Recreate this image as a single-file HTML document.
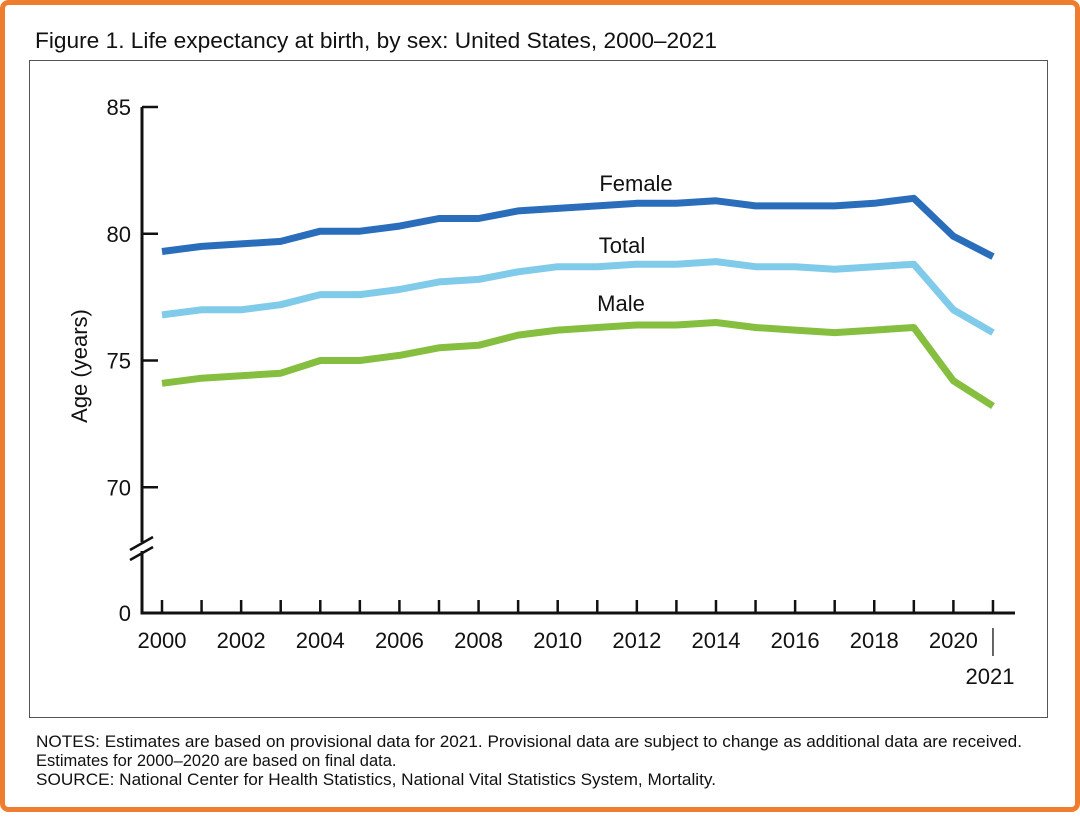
<!DOCTYPE html>
<html><head><meta charset="utf-8"><style>
body{margin:0;background:#fff;width:1080px;height:812px;overflow:hidden;font-family:"Liberation Sans",Arial,sans-serif}
</style></head><body>
<svg width="1080" height="812" font-family="Liberation Sans, Arial, sans-serif">
<rect x="2.5" y="2.5" width="1075" height="807" rx="6" fill="#fff" stroke="#ef7d30" stroke-width="5"/>
<text x="35" y="48" font-size="22" fill="#111" textLength="682" lengthAdjust="spacingAndGlyphs">Figure 1. Life expectancy at birth, by sex: United States, 2000–2021</text>
<rect x="29.5" y="60.5" width="1018" height="657" fill="none" stroke="#555" stroke-width="1"/>
<g id="axes"></g>
<g id="lines"></g>
<text x="36" y="747" font-size="16.5" fill="#111" textLength="986" lengthAdjust="spacingAndGlyphs">NOTES: Estimates are based on provisional data for 2021. Provisional data are subject to change as additional data are received.</text>
<text x="36" y="766" font-size="16.5" fill="#111">Estimates for 2000–2020 are based on final data.</text>
<text x="36" y="785" font-size="16.5" fill="#111" textLength="680" lengthAdjust="spacingAndGlyphs">SOURCE: National Center for Health Statistics, National Vital Statistics System, Mortality.</text>
</svg>
<script>
const years=[2000,2001,2002,2003,2004,2005,2006,2007,2008,2009,2010,2011,2012,2013,2014,2015,2016,2017,2018,2019,2020,2021];
const female=[79.3,79.5,79.6,79.7,80.1,80.1,80.3,80.6,80.6,80.9,81.0,81.1,81.2,81.2,81.3,81.1,81.1,81.1,81.2,81.4,79.9,79.1];
const total=[76.8,77.0,77.0,77.2,77.6,77.6,77.8,78.1,78.2,78.5,78.7,78.7,78.8,78.8,78.9,78.7,78.7,78.6,78.7,78.8,77.0,76.1];
const male=[74.1,74.3,74.4,74.5,75.0,75.0,75.2,75.5,75.6,76.0,76.2,76.3,76.4,76.4,76.5,76.3,76.2,76.1,76.2,76.3,74.2,73.2];
const yTicks=[85,80,75,70];
const xLabels=[2000,2002,2004,2006,2008,2010,2012,2014,2016,2018,2020];
const NS="http://www.w3.org/2000/svg";
const x=v=>162+(v-2000)*39.57;
const y=v=>107+(85-v)*25.35;
function mk(p,t,a){const e=document.createElementNS(NS,t);for(const k in a)e.setAttribute(k,a[k]);p.appendChild(e);return e;}
const ax=document.getElementById('axes');
let e;
e=mk(ax,'path',{d:'M142,107V542M142,551V613H1015',fill:'none',stroke:'#111','stroke-width':3});

e=mk(ax,'path',{d:'M130,550L153,537M130,560L153,547',stroke:'#111','stroke-width':2.5});

yTicks.forEach(v=>{
 e=mk(ax,'line',{x1:142,x2:158,y1:y(v),y2:y(v),stroke:'#111','stroke-width':2.5});
 
 e=mk(ax,'text',{x:131,y:y(v)+8,'font-size':22,'text-anchor':'end',fill:'#111'});e.textContent=v;
 
});
e=mk(ax,'text',{x:131,y:621,'font-size':22,'text-anchor':'end',fill:'#111'});e.textContent='0';

e=mk(ax,'text',{x:0,y:0,'font-size':22,'text-anchor':'middle',fill:'#111',transform:'translate(87,366) rotate(-90)'});e.textContent='Age (years)';

years.forEach(v=>{
 e=mk(ax,'line',{x1:x(v),x2:x(v),y1:600,y2:613,stroke:'#111','stroke-width':2.5});
 
});
xLabels.forEach(v=>{
 e=mk(ax,'text',{x:x(v),y:648,'font-size':22,'text-anchor':'middle',fill:'#111'});e.textContent=v;
 
});
e=mk(ax,'line',{x1:x(2021),x2:x(2021),y1:628,y2:656,stroke:'#333','stroke-width':1.5});

e=mk(ax,'text',{x:x(2021)-3,y:684,'font-size':22,'text-anchor':'middle',fill:'#111'});e.textContent='2021';

const lg=document.getElementById('lines');
[[female,'#2a6ebb','Female','female-line',636,191],[total,'#80cbe9','Total','total-line',622,253],[male,'#86bf3f','Male','male-line',621,311]].forEach(s=>{
 const d=s[0].map((v,i)=>(i?'L':'M')+x(years[i]).toFixed(1)+','+y(v).toFixed(1)).join('');
 e=mk(lg,'path',{d:d,fill:'none',stroke:s[1],'stroke-width':7,'stroke-linejoin':'round'});
 
 e=mk(lg,'text',{x:s[4],y:s[5],'font-size':22,'text-anchor':'middle',fill:'#111'});e.textContent=s[2];
 
});
</script>
</body></html>
